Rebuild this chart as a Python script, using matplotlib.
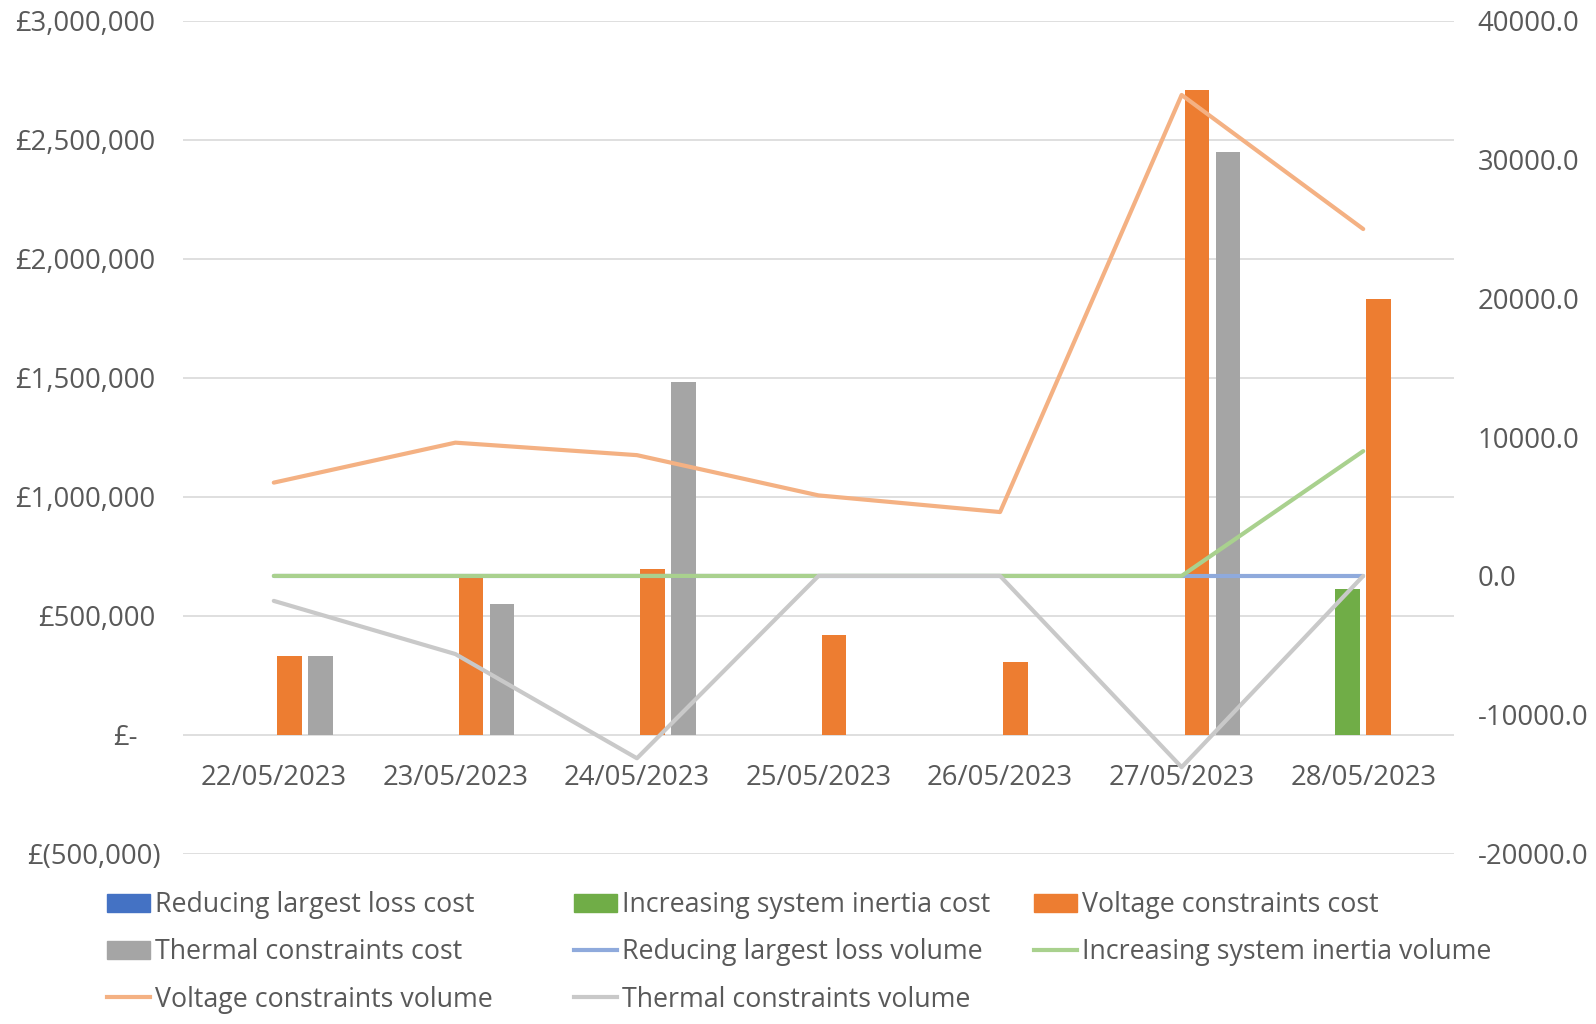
import numpy as np
import matplotlib.pyplot as plt
from matplotlib.ticker import FuncFormatter, FormatStrFormatter, MultipleLocator
from matplotlib.transforms import ScaledTranslation
from matplotlib.patches import Patch
from matplotlib.lines import Line2D

# Data
dates = ['22/05/2023', '23/05/2023', '24/05/2023', '25/05/2023',
         '26/05/2023', '27/05/2023', '28/05/2023']

# Costs (left axis, GBP)
reducing_loss_cost = [0, 0, 0, 0, 0, 0, 0]
inertia_cost = [0, 0, 0, 0, 0, 0, 610000]
voltage_cost = [331000, 660000, 697000, 419000, 303000, 2708000, 1829000]
thermal_cost = [331000, 550000, 1481000, 0, 0, 2449000, 0]

# Volumes (right axis)
reducing_loss_vol = [0, 0, 0, 0, 0, 0, 0]
inertia_vol = [0, 0, 0, 0, 0, 0, 8990]
voltage_vol = [6720, 9600, 8700, 5800, 4600, 34650, 24990]
thermal_vol = [-1800, -5630, -13140, 0, 0, -13780, 0]

text_col = '#595959'
plt.rcParams['font.family'] = ['Open Sans', 'DejaVu Sans']
fs = 19.8
leg_fs = 19.3

fig = plt.figure(figsize=(15.96, 10.24), dpi=100)
ax = fig.add_axes([183 / 1596, 1 - 853.5 / 1024, (1454 - 183) / 1596,
                   (853.5 - 20.7) / 1024])
ax2 = ax.twinx()

x = np.arange(len(dates))
slot = 0.171
w = 0.135
bar_series = [(reducing_loss_cost, '#4472C4'), (inertia_cost, '#70AD47'),
              (voltage_cost, '#ED7D31'), (thermal_cost, '#A5A5A5')]
for i, (vals, col) in enumerate(bar_series):
    ax.bar(x + (i - 1.5) * slot, vals, width=w, color=col, linewidth=0,
           zorder=2)

# Lines on secondary axis
line_series = [(reducing_loss_vol, '#8FAADC'), (inertia_vol, '#A9D18E'),
               (voltage_vol, '#F4B183'), (thermal_vol, '#C9C9C9')]
for vals, col in line_series:
    ax2.plot(x, vals, color=col, linewidth=3.0, solid_capstyle='round',
             solid_joinstyle='round')

ax.set_xlim(-0.5, len(dates) - 0.5)
ax.set_ylim(-500000, 3000000)
ax2.set_ylim(-20000, 40000)
ax.yaxis.set_major_locator(MultipleLocator(500000))
ax2.yaxis.set_major_locator(MultipleLocator(10000))


def gbp(v, pos):
    if v == 0:
        return '£-'
    if v < 0:
        return '£({:,.0f})'.format(-v)
    return '£{:,.0f}'.format(v)


ax.yaxis.set_major_formatter(FuncFormatter(gbp))
ax2.yaxis.set_major_formatter(FormatStrFormatter('%.1f'))

ax.grid(axis='y', color='#D9D9D9', linewidth=1.2)
ax.set_axisbelow(True)
for a in (ax, ax2):
    for s in a.spines.values():
        s.set_visible(False)

# category labels sit under the zero line
ax.spines['bottom'].set_position(('data', 0))
ax.set_xticks(x)
ax.set_xticklabels(dates)
ax.tick_params(axis='x', length=0, pad=21, labelsize=fs, labelcolor=text_col)
ax.tick_params(axis='y', length=0, pad=20, labelsize=fs, labelcolor=text_col)
ax2.tick_params(axis='y', length=0, pad=17, labelsize=fs, labelcolor=text_col)

# accounting-style alignment: zero dash sits left, brackets stick out right
fig.canvas.draw()
for t in ax.get_yticklabels():
    s = t.get_text()
    if s == '£-':
        t.set_transform(t.get_transform()
                        + ScaledTranslation(-0.18, 0, fig.dpi_scale_trans))
    elif s.startswith('£('):
        t.set_transform(t.get_transform()
                        + ScaledTranslation(0.05, 0, fig.dpi_scale_trans))

# Legend, three columns laid out like the original
h = {
    'Reducing largest loss cost': Patch(color='#4472C4'),
    'Increasing system inertia cost': Patch(color='#70AD47'),
    'Voltage constraints cost': Patch(color='#ED7D31'),
    'Thermal constraints cost': Patch(color='#A5A5A5'),
    'Reducing largest loss volume': Line2D([], [], color='#8FAADC', lw=3),
    'Increasing system inertia volume': Line2D([], [], color='#A9D18E', lw=3),
    'Voltage constraints volume': Line2D([], [], color='#F4B183', lw=3),
    'Thermal constraints volume': Line2D([], [], color='#C9C9C9', lw=3),
}
columns = [
    ['Reducing largest loss cost', 'Thermal constraints cost',
     'Voltage constraints volume'],
    ['Increasing system inertia cost', 'Reducing largest loss volume',
     'Thermal constraints volume'],
    ['Voltage constraints cost', 'Increasing system inertia volume'],
]
col_x = [107, 574, 1034]
for cx, names in zip(col_x, columns):
    leg = fig.legend([h[n] for n in names], names, loc='upper left',
                     bbox_to_anchor=(cx / 1596, 1 - 891 / 1024),
                     frameon=False, fontsize=leg_fs, borderpad=0,
                     borderaxespad=0, handlelength=1.6, handleheight=0.65,
                     handletextpad=0.2, labelspacing=0.72)
    for t in leg.get_texts():
        t.set_color(text_col)

fig.savefig('out.png', dpi=100)
